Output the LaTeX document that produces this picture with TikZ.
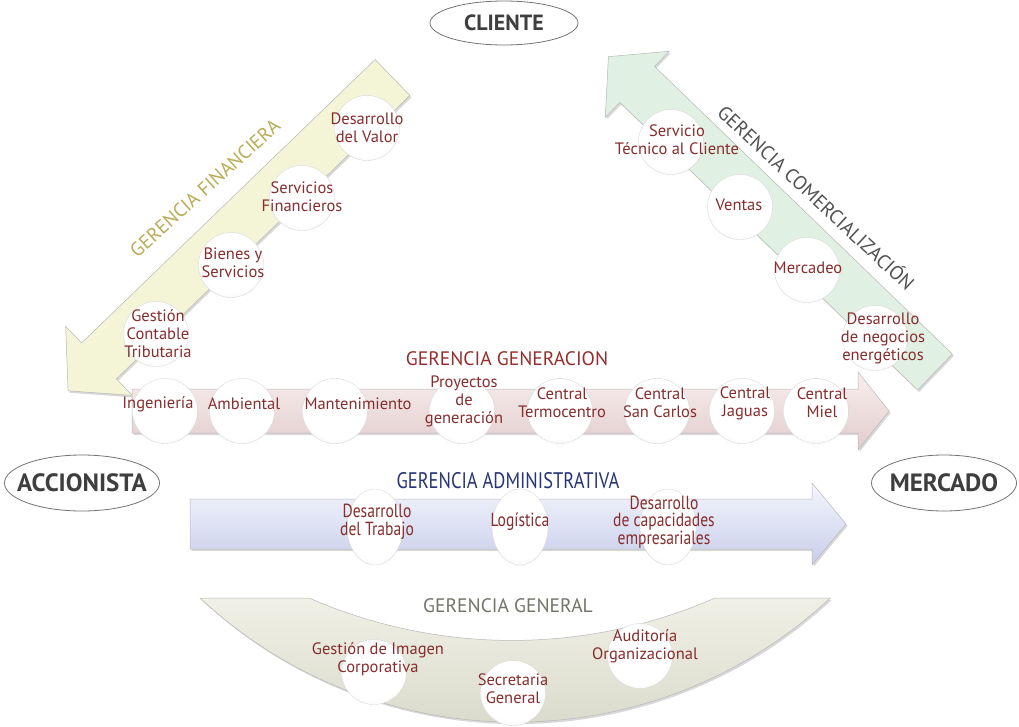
\documentclass[tikz,border=0pt]{standalone}
\usepackage{fontspec}
\setmainfont{PT Sans}
\newfontfamily\condfont[FakeStretch=0.82]{PT Sans}
\usetikzlibrary{shapes.geometric,shadows}
\definecolor{lblred}{RGB}{135,45,45}
\definecolor{finc}{RGB}{186,172,84}
\definecolor{finfill}{RGB}{244,244,214}
\definecolor{comfill}{RGB}{224,240,226}
\definecolor{genA}{RGB}{248,238,238}
\definecolor{genB}{RGB}{226,204,204}
\definecolor{gent}{RGB}{150,45,45}
\definecolor{admA}{RGB}{244,245,253}
\definecolor{admB}{RGB}{200,206,234}
\definecolor{admt}{RGB}{40,52,120}
\definecolor{ggA}{RGB}{240,240,230}
\definecolor{ggB}{RGB}{212,212,196}
\definecolor{ggt}{RGB}{115,115,105}
\definecolor{darkt}{RGB}{62,62,62}
\pgfdeclareradialshading{sphere}{\pgfpoint{0bp}{8bp}}{color(0bp)=(white); color(26bp)=(white); color(40bp)=(black!10); color(50bp)=(black!32); color(62bp)=(black!38)}
\tikzset{
  ball/.style={circle, minimum size=65pt, inner sep=0pt, shading=sphere, draw=black!15, line width=0.4pt},
  ballv/.style={ellipse, minimum width=56pt, minimum height=76pt, inner sep=0pt, shading=sphere, draw=black!15, line width=0.4pt},
  lbl/.style={align=center, text=lblred, inner sep=0pt, font=\fontsize{16.5}{18}\selectfont},
  lblc/.style={align=center, text=lblred, inner sep=0pt, font=\condfont\fontsize{19}{17.5}\selectfont},
  ttl/.style={inner sep=0pt, font=\fontsize{19.5}{21}\selectfont},
  actorshape/.style={ellipse, draw=black!55, line width=0.8pt, fill=white, inner sep=0pt},
  actortext/.style={inner sep=0pt, text=darkt, font=\bfseries\fontsize{25}{27}\selectfont},
  band/.style={draw=black!28, line width=0.5pt, drop shadow={shadow xshift=1.5pt, shadow yshift=-2pt, opacity=0.3}},
}
\begin{document}
\begin{tikzpicture}[x=1pt,y=-1pt]
\useasboundingbox (0,0) rectangle (1019,726);
\fill[white] (0,0) rectangle (1019,726);

% ---------- Gerencia Financiera band ----------
\begin{scope}[shift={(392.5,77.5)}, rotate=224]
  \path[band, fill=finfill] (0,-25) -- (408,-25) -- (408,-48) -- (451,0) -- (408,48) -- (408,25) -- (0,25) -- cycle;
\end{scope}
% ---------- Gerencia Comercializacion band ----------
\begin{scope}[shift={(935,372)}, rotate=136]
  \path[band, fill=comfill] (0,-25) -- (414,-25) -- (414,-46) -- (454,0) -- (414,46) -- (414,25) -- (0,25) -- cycle;
\end{scope}
% ---------- Gerencia Generacion band ----------
\path[band, top color=genA, bottom color=genB] (132,389) -- (858,389) -- (858,372) -- (889,411) -- (858,450) -- (858,433) -- (132,433) -- cycle;
% ---------- Gerencia Administrativa band ----------
\path[band, top color=admA, bottom color=admB] (190,499) -- (812,499) -- (812,483) -- (846,524) -- (812,565) -- (812,549) -- (190,549) -- cycle;
% ---------- Gerencia General crescent ----------
\path[band, top color=ggA, bottom color=ggB] (200,598) arc[start angle=133, end angle=47, radius=462] -- (715,598) arc[start angle=66.4, end angle=113.6, radius=507] -- cycle;

% ---------- actors ----------
\node[actorshape, minimum width=148pt, minimum height=44pt] (cliente) at (504,23) {};
\node[actortext, font=\bfseries\fontsize{22}{24}\selectfont] (clientet) at (504,23) {CLIENTE};
\node[actorshape, minimum width=155pt, minimum height=56pt] (accionista) at (82,483) {};
\node[actortext] (accionistat) at (82,483) {ACCIONISTA};
\node[actorshape, minimum width=145pt, minimum height=56pt] (mercado) at (944,483) {};
\node[actortext] (mercadot) at (944,483) {MERCADO};

% ---------- titles ----------
\node[ttl, text=finc, rotate=42] (tfin) at (205,188) {GERENCIA FINANCIERA};
\node[ttl, text=darkt!90, rotate=-43] (tcom) at (817,197) {GERENCIA COMERCIALIZACIÓN};
\node[ttl, text=gent] (tgen) at (507,359) {GERENCIA GENERACION};
\node[ttl, text=admt, font=\condfont\fontsize{22.5}{24}\selectfont] (tadm) at (508,481) {GERENCIA ADMINISTRATIVA};
\node[ttl, text=ggt] (tgg) at (508,606) {GERENCIA GENERAL};

% ---------- financiera circles ----------
\node[ball] (f1) at (367,128) {};
\node[ball] (f2) at (302,198) {};
\node[ball] (f3) at (231,265) {};
\node[ball] (f4) at (156,334) {};
\node[lbl] (f1t) at (367,128) {Desarrollo\\del Valor};
\node[lbl] (f2t) at (302,197) {Servicios\\Financieros};
\node[lbl] (f3t) at (233,263) {Bienes y\\Servicios};
\node[lbl] (f4t) at (158,334) {Gestión\\Contable\\Tributaria};

% ---------- comercial circles ----------
\node[ball] (c1) at (671,142) {};
\node[ball] (c2) at (740,207) {};
\node[ball] (c3) at (807,270) {};
\node[ball] (c4) at (875,338) {};
\node[lbl] (c1t) at (677,140) {Servicio\\Técnico al Cliente};
\node[lbl] (c2t) at (739,205) {Ventas};
\node[lbl] (c3t) at (808,268) {Mercadeo};
\node[lbl] (c4t) at (883,338) {Desarrollo\\de negocios\\energéticos};

% ---------- generacion circles ----------
\node[ball] (g1) at (165,411) {};
\node[ball] (g2) at (242,411) {};
\node[ball] (g3) at (335,411) {};
\node[ball] (g4) at (462,411) {};
\node[ball] (g5) at (560,411) {};
\node[ball] (g6) at (657,411) {};
\node[ball] (g7) at (742,411) {};
\node[ball] (g8) at (816,411) {};
\node[lbl] (g1t) at (158,404) {Ingeniería};
\node[lbl] (g2t) at (244,404) {Ambiental};
\node[lbl] (g3t) at (358,404) {Mantenimiento};
\node[lbl] (g4t) at (464,401) {Proyectos\\de\\generación};
\node[lbl] (g5t) at (562,403) {Central\\Termocentro};
\node[lbl] (g6t) at (660,403) {Central\\San Carlos};
\node[lbl] (g7t) at (745,403) {Central\\Jaguas};
\node[lbl] (g8t) at (822,403) {Central\\Miel};

% ---------- administrativa circles ----------
\node[ballv] (a1) at (375,527) {};
\node[ballv] (a2) at (520,527) {};
\node[ballv] (a3) at (668,527) {};
\node[lblc] (a1t) at (377,522) {Desarrollo\\del Trabajo};
\node[lblc] (a2t) at (520,522) {Logística};
\node[lblc] (a3t) at (664,522) {Desarrollo\\de capacidades\\empresariales};

% ---------- general circles ----------
\node[ball] (s1) at (374,672) {};
\node[ball] (s2) at (513,693) {};
\node[ball] (s3) at (640,656) {};
\node[lbl] (s1t) at (378,659) {Gestión de Imagen\\Corporativa};
\node[lbl] (s2t) at (513,689) {Secretaria\\General};
\node[lbl] (s3t) at (645,646) {Auditoría\\Organizacional};
\end{tikzpicture}
\end{document}
